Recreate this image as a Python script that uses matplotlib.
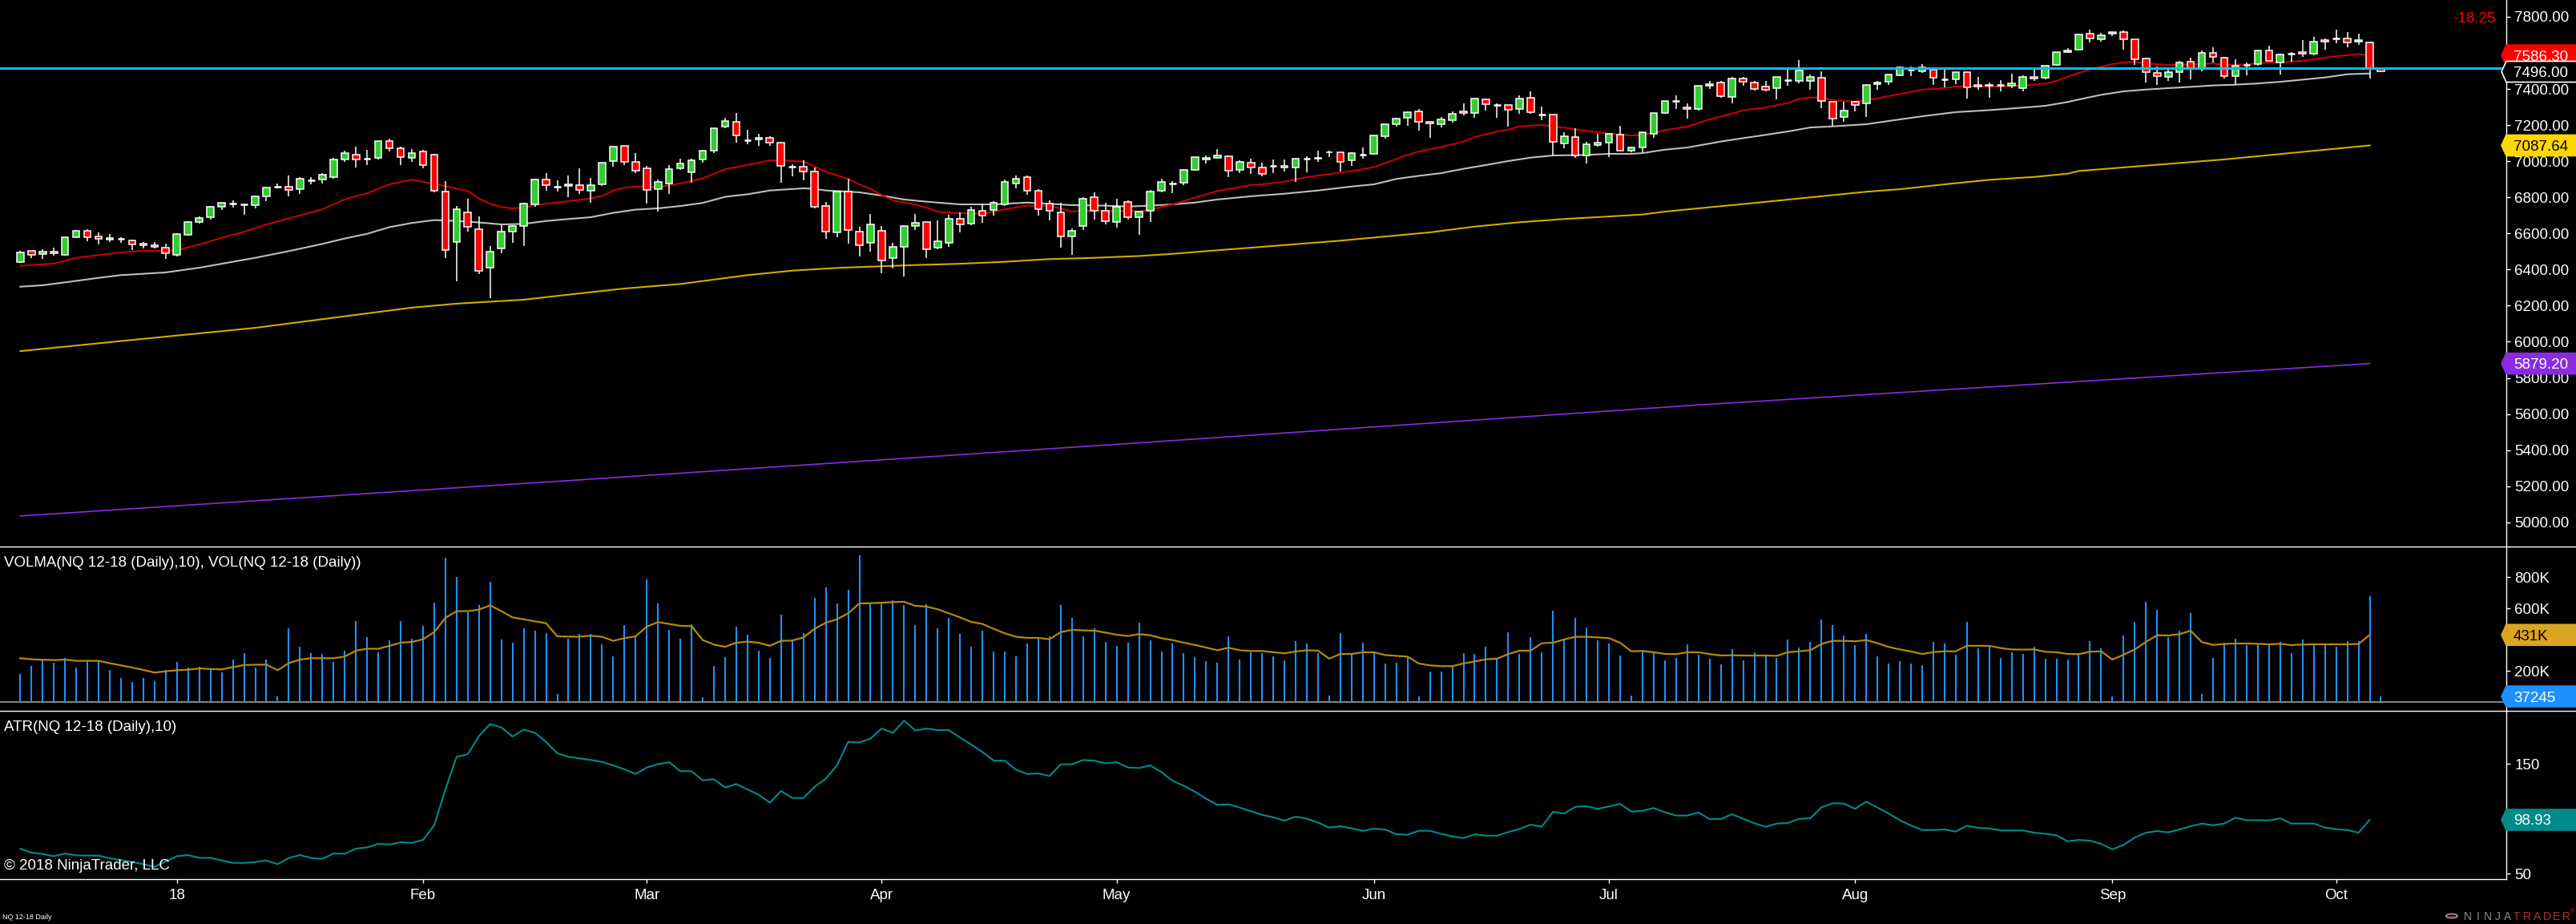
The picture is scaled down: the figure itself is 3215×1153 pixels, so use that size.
import numpy as np
import pandas as pd
import matplotlib
matplotlib.use("Agg")
import matplotlib.pyplot as plt
from matplotlib.patches import Polygon, Circle, Wedge
from matplotlib.lines import Line2D

plt.rcParams['font.family'] = ['Liberation Sans', 'DejaVu Sans']

# ---------------- data ----------------
opens = [6443, 6502, 6484, 6499, 6483, 6578, 6613, 6582, 6564, 6569,
         6560, 6544, 6533, 6523, 6483, 6591, 6662, 6689, 6746, 6764,
         6760, 6755, 6804, 6860, 6857, 6844, 6894, 6897, 6910, 7008,
         7035, 7013, 7017, 7110, 7070, 7017, 7053, 7035, 6831, 6551,
         6715, 6622, 6409, 6516, 6609, 6640, 6760, 6897, 6860, 6862,
         6866, 6835, 6871, 6999, 7084, 6995, 6959, 6844, 6875, 6959,
         6937, 7008, 7057, 7190, 7217, 7118, 7121, 7128, 7101, 6971,
         6968, 6942, 6751, 6606, 6831, 6609, 6546, 6613, 6462, 6524,
         6640, 6665, 6520, 6546, 6680, 6653, 6724, 6728, 6760, 6875,
         6911, 6835, 6764, 6715, 6582, 6640, 6800, 6724, 6662, 6773,
         6689, 6724, 6835, 6875, 6880, 6950, 7008, 7017, 7026, 6950,
         6991, 6964, 6976, 6973, 6964, 7013, 7014, 7048, 7048, 7004,
         7035, 7039, 7137, 7204, 7239, 7275, 7217, 7204, 7226, 7275,
         7266, 7341, 7312, 7310, 7288, 7350, 7260, 7257, 7097, 7133,
         7030, 7088, 7101, 7146, 7057, 7075, 7150, 7266, 7334, 7297,
         7291, 7417, 7434, 7354, 7456, 7434, 7412, 7403, 7449, 7443,
         7443, 7461, 7328, 7244, 7328, 7319, 7425, 7439, 7474, 7508,
         7497, 7508, 7455, 7455, 7492, 7421, 7421, 7424, 7417, 7403,
         7465, 7461, 7532, 7603, 7616, 7705, 7674, 7705, 7714, 7674,
         7568, 7488, 7466, 7492, 7550, 7514, 7599, 7572, 7470, 7534,
         7536, 7612, 7545, 7597, 7603, 7594, 7670, 7679, 7679, 7661,
         7656, 7514]
highs = [6502, 6502, 6511, 6520, 6578, 6619, 6623, 6606, 6597, 6579,
         6566, 6552, 6552, 6544, 6601, 6668, 6693, 6751, 6771, 6783,
         6760, 6808, 6853, 6876, 6921, 6912, 6912, 6933, 7017, 7057,
         7081, 7063, 7110, 7124, 7079, 7066, 7062, 7041, 6888, 6752,
         6792, 6694, 6530, 6646, 6644, 6769, 6902, 6933, 6893, 6921,
         6961, 6906, 6990, 7085, 7084, 7045, 6973, 6897, 6977, 7013,
         7013, 7057, 7181, 7239, 7266, 7173, 7150, 7138, 7101, 6983,
         7005, 6967, 6773, 6831, 6902, 6635, 6706, 6640, 6546, 6644,
         6706, 6665, 6671, 6702, 6715, 6746, 6764, 6777, 6899, 6921,
         6919, 6844, 6783, 6768, 6626, 6800, 6826, 6768, 6791, 6782,
         6724, 6840, 6902, 6888, 6955, 7022, 7030, 7066, 7030, 7004,
         7013, 6991, 7008, 7008, 7013, 7026, 7057, 7057, 7048, 7048,
         7075, 7141, 7204, 7239, 7275, 7288, 7217, 7244, 7275, 7319,
         7350, 7346, 7319, 7310, 7363, 7386, 7301, 7257, 7159, 7181,
         7106, 7150, 7150, 7195, 7079, 7159, 7266, 7332, 7365, 7320,
         7417, 7443, 7443, 7465, 7465, 7443, 7443, 7465, 7505, 7559,
         7479, 7497, 7328, 7328, 7334, 7425, 7443, 7479, 7525, 7523,
         7537, 7508, 7508, 7492, 7492, 7465, 7434, 7448, 7483, 7474,
         7508, 7528, 7603, 7625, 7708, 7727, 7710, 7714, 7723, 7674,
         7572, 7523, 7505, 7554, 7572, 7612, 7630, 7577, 7563, 7545,
         7616, 7639, 7594, 7603, 7670, 7687, 7679, 7727, 7714, 7705,
         7661, 7522]
lows = [6438, 6465, 6461, 6478, 6477, 6576, 6558, 6541, 6554, 6546,
        6509, 6517, 6518, 6461, 6474, 6588, 6656, 6678, 6731, 6745,
        6705, 6740, 6780, 6851, 6807, 6820, 6873, 6878, 6902, 6998,
        6967, 6980, 7011, 7055, 6980, 6998, 6962, 6828, 6465, 6336,
        6612, 6375, 6243, 6492, 6549, 6532, 6749, 6838, 6834, 6803,
        6820, 6772, 6862, 6968, 6980, 6936, 6767, 6723, 6820, 6950,
        6880, 6993, 7044, 7181, 7104, 7093, 7084, 7087, 6880, 6917,
        6896, 6740, 6572, 6581, 6545, 6474, 6501, 6381, 6407, 6363,
        6617, 6465, 6514, 6527, 6607, 6644, 6660, 6697, 6754, 6851,
        6813, 6700, 6674, 6523, 6483, 6618, 6677, 6652, 6634, 6678,
        6594, 6665, 6828, 6825, 6866, 6946, 6986, 7013, 6911, 6933,
        6931, 6916, 6934, 6943, 6887, 6940, 6998, 7023, 6941, 6976,
        7014, 7035, 7127, 7193, 7198, 7171, 7131, 7186, 7212, 7252,
        7239, 7279, 7242, 7190, 7261, 7261, 7227, 7030, 7073, 7020,
        6989, 7079, 7022, 7053, 7048, 7048, 7131, 7261, 7289, 7237,
        7282, 7399, 7350, 7322, 7416, 7390, 7385, 7344, 7420, 7430,
        7394, 7295, 7198, 7220, 7274, 7246, 7394, 7421, 7470, 7471,
        7489, 7424, 7409, 7428, 7348, 7394, 7353, 7385, 7403, 7385,
        7443, 7452, 7528, 7599, 7612, 7659, 7664, 7692, 7619, 7535,
        7437, 7424, 7446, 7437, 7455, 7499, 7545, 7460, 7424, 7474,
        7528, 7554, 7479, 7553, 7579, 7585, 7619, 7655, 7633, 7646,
        7459, 7492]
closes = [6493, 6480, 6497, 6489, 6578, 6613, 6578, 6569, 6573, 6569,
          6538, 6533, 6524, 6489, 6595, 6662, 6684, 6746, 6768, 6764,
          6760, 6804, 6853, 6860, 6839, 6902, 6894, 6924, 7008, 7044,
          7008, 7013, 7110, 7070, 7021, 7044, 6977, 6835, 6507, 6733,
          6635, 6394, 6498, 6609, 6640, 6764, 6897, 6866, 6860, 6871,
          6840, 6866, 6990, 7079, 6995, 6946, 6840, 6884, 6955, 6986,
          7004, 7057, 7181, 7221, 7141, 7118, 7128, 7101, 6973, 6971,
          6942, 6746, 6609, 6831, 6618, 6533, 6649, 6449, 6524, 6640,
          6657, 6511, 6555, 6680, 6649, 6728, 6697, 6768, 6884, 6902,
          6835, 6733, 6724, 6582, 6613, 6791, 6724, 6669, 6746, 6689,
          6720, 6831, 6884, 6875, 6950, 7022, 7017, 7030, 6946, 6995,
          6964, 6931, 6976, 6964, 7013, 7013, 7018, 7050, 6998, 7044,
          7035, 7141, 7204, 7235, 7270, 7217, 7208, 7230, 7261, 7266,
          7346, 7315, 7312, 7283, 7346, 7270, 7260, 7106, 7137, 7030,
          7092, 7101, 7150, 7057, 7075, 7159, 7266, 7332, 7334, 7288,
          7417, 7425, 7359, 7456, 7439, 7399, 7394, 7465, 7449, 7501,
          7465, 7332, 7235, 7279, 7310, 7421, 7434, 7479, 7519, 7508,
          7519, 7461, 7455, 7492, 7408, 7412, 7417, 7424, 7430, 7465,
          7456, 7528, 7603, 7612, 7701, 7682, 7696, 7714, 7674, 7563,
          7492, 7470, 7492, 7545, 7514, 7599, 7576, 7470, 7528, 7534,
          7612, 7554, 7590, 7597, 7594, 7661, 7661, 7679, 7656, 7670,
          7514.25, 7496]

# volume in thousands of contracts
volume_k = [179, 231, 275, 251, 282, 220, 265, 265, 205, 154,
            128, 154, 133, 205, 256, 220, 226, 215, 190, 275,
            313, 220, 272, 36, 472, 354, 316, 308, 256, 328,
            518, 415, 318, 395, 518, 405, 487, 636, 923, 800,
            574, 624, 772, 400, 379, 472, 456, 441, 51, 405,
            436, 436, 369, 292, 492, 426, 784, 631, 461, 405,
            501, 31, 231, 287, 482, 431, 328, 282, 559, 398,
            441, 667, 733, 631, 718, 938, 631, 631, 651, 620,
            492, 625, 472, 538, 436, 354, 458, 323, 323, 296,
            374, 410, 424, 620, 538, 420, 472, 385, 359, 379,
            508, 398, 323, 374, 313, 291, 261, 251, 420, 272,
            318, 313, 292, 267, 390, 374, 313, 41, 441, 308,
            379, 318, 246, 251, 292, 36, 195, 195, 226, 313,
            308, 354, 277, 446, 308, 415, 318, 584, 395, 538,
            477, 395, 374, 297, 41, 333, 313, 267, 282, 369,
            302, 277, 241, 338, 267, 318, 297, 282, 400, 349,
            385, 528, 492, 426, 364, 436, 292, 246, 261, 246,
            236, 385, 374, 302, 513, 344, 364, 282, 318, 308,
            354, 277, 277, 272, 308, 390, 344, 36, 426, 513,
            641, 590, 415, 458, 569, 51, 282, 379, 405, 364,
            374, 369, 385, 313, 400, 369, 374, 354, 390, 390,
            677, 37.245]

volma_k = [282, 275, 272, 270, 273, 265, 265, 265, 250, 236,
           222, 207, 190, 198, 205, 208, 217, 213, 210, 225,
           238, 240, 241, 205, 250, 273, 282, 282, 282, 292,
           330, 343, 342, 361, 381, 386, 403, 449, 540, 583,
           583, 593, 620, 583, 543, 531, 518, 506, 422, 420,
           420, 426, 419, 393, 410, 422, 484, 513, 501, 489,
           487, 398, 369, 355, 381, 388, 381, 361, 393, 395,
           415, 470, 509, 531, 569, 632, 634, 637, 641, 643,
           617, 612, 595, 569, 543, 514, 501, 470, 441, 419,
           412, 412, 403, 449, 463, 460, 458, 446, 432, 424,
           436, 429, 410, 398, 381, 367, 350, 333, 349, 333,
           328, 328, 320, 313, 325, 333, 330, 279, 309, 309,
           320, 320, 302, 297, 292, 248, 236, 231, 231, 248,
           261, 275, 279, 308, 330, 330, 378, 381, 402, 419,
           419, 415, 410, 381, 326, 328, 320, 309, 308, 320,
           320, 308, 299, 301, 299, 299, 299, 297, 320, 326,
           333, 373, 393, 393, 390, 398, 378, 354, 338, 325,
           309, 321, 326, 326, 362, 361, 361, 347, 338, 337,
           338, 323, 320, 309, 308, 323, 326, 273, 304, 338,
           386, 429, 427, 436, 458, 385, 367, 373, 376, 376,
           374, 371, 374, 366, 369, 371, 371, 371, 371, 373,
           431]

atr = [72.6, 69.0, 67.8, 65.8, 68.2, 66.5, 66.4, 66.3, 63.9, 62.2,
       60.5, 58.5, 56.1, 61.0, 65.8, 66.8, 64.3, 64.3, 61.9, 59.7,
       59.7, 60.5, 61.9, 58.5, 64.1, 66.8, 64.1, 63.4, 68.2, 68.0,
       72.6, 73.8, 77.0, 76.5, 78.5, 78.0, 80.6, 93.8, 126.6, 156.3,
       158.7, 175.3, 186.2, 183.1, 174.8, 181.1, 178.2, 169.9, 159.5, 156.3,
       154.9, 153.4, 151.7, 148.5, 144.9, 140.7, 146.6, 149.7, 151.4, 143.2,
       143.2, 134.9, 135.9, 128.3, 131.5, 126.6, 121.8, 114.5, 125.2, 118.8,
       118.8, 129.1, 136.4, 148.5, 169.9, 169.4, 172.9, 182.1, 178.2, 189.2,
       180.2, 182.1, 180.6, 180.6, 173.8, 167.5, 160.7, 152.9, 152.7, 144.6,
       140.7, 141.2, 138.8, 149.5, 149.5, 153.4, 152.7, 150.5, 151.4, 146.6,
       146.1, 148.5, 142.4, 134.4, 130.0, 124.5, 118.1, 112.5, 113.0, 110.1,
       106.7, 103.5, 101.1, 98.2, 101.8, 99.9, 96.5, 91.8, 93.1, 91.1,
       88.9, 90.9, 90.1, 85.8, 85.3, 88.9, 88.9, 86.2, 83.8, 82.3,
       85.8, 84.5, 84.5, 87.7, 90.6, 94.5, 92.6, 106.2, 104.7, 110.8,
       111.3, 108.9, 111.1, 113.5, 106.4, 107.2, 109.6, 105.9, 102.8, 102.8,
       105.5, 99.6, 99.6, 104.0, 99.9, 95.7, 92.6, 95.5, 96.0, 99.9,
       100.3, 110.3, 114.0, 113.7, 108.9, 115.4, 110.1, 104.7, 98.6, 93.8,
       89.6, 89.6, 90.1, 88.2, 93.5, 91.6, 91.1, 89.2, 89.2, 89.2,
       87.2, 86.2, 84.8, 79.4, 80.6, 79.9, 77.0, 72.1, 76.0, 82.8,
       87.2, 88.7, 87.5, 90.1, 93.1, 95.5, 94.0, 95.5, 100.8, 98.6,
       98.6, 98.4, 100.3, 95.5, 95.5, 95.5, 91.8, 90.4, 89.6, 87.2,
       98.93]

# moving-average lines (bar index, value)
red_idx = [0, 3, 5, 7, 9, 11, 13, 14, 16, 18, 20, 22, 24, 27, 29, 31, 33, 35, 38, 40,
           41, 42, 43, 44, 45, 46, 48, 50, 51, 52, 53, 54, 55, 57, 59, 61, 63, 65, 67, 69,
           70, 71, 72, 74, 75, 76, 77, 78, 80, 81, 82, 84, 86, 88, 90, 92, 93, 94, 95, 97,
           99, 100, 101, 103, 105, 107, 109, 110, 111, 113, 115, 117, 119, 120, 121, 122, 124, 125, 127, 129,
           130, 132, 133, 134, 136, 138, 140, 142, 144, 145, 146, 147, 149, 151, 153, 154, 156, 158, 159, 160,
           161, 162, 164, 166, 168, 170, 172, 173, 175, 177, 179, 181, 182, 183, 184, 185, 187, 188, 189, 190,
           191, 192, 193, 195, 196, 197, 199, 200, 202, 204, 205, 207, 208, 209, 210]
red_val = [6421, 6433, 6465, 6480, 6495, 6504, 6504, 6507, 6539, 6576, 6609, 6650, 6683, 6734, 6789, 6823, 6872, 6898, 6862, 6835,
           6794, 6764, 6746, 6739, 6743, 6758, 6771, 6786, 6794, 6808, 6838, 6853, 6860, 6857, 6877, 6905, 6956, 6980, 7005, 7002,
           6998, 6971, 6942, 6902, 6872, 6847, 6813, 6783, 6761, 6743, 6720, 6712, 6709, 6734, 6754, 6751, 6739, 6721, 6727, 6724,
           6724, 6721, 6731, 6761, 6798, 6835, 6857, 6869, 6872, 6887, 6912, 6928, 6946, 6956, 6968, 6990, 7035, 7054, 7079, 7109,
           7134, 7165, 7175, 7193, 7201, 7186, 7168, 7153, 7143, 7146, 7158, 7172, 7192, 7232, 7264, 7282, 7298, 7323, 7346, 7353,
           7353, 7338, 7331, 7349, 7372, 7397, 7405, 7414, 7414, 7414, 7420, 7430, 7445, 7468, 7490, 7508, 7538, 7548, 7551, 7542,
           7538, 7533, 7535, 7538, 7542, 7535, 7535, 7544, 7548, 7556, 7565, 7582, 7587, 7594, 7586.30]

gray_idx = [0, 2, 4, 7, 9, 13, 16, 19, 21, 24, 27, 29, 31, 33, 35, 37, 39, 41, 43, 45,
            47, 49, 51, 53, 55, 57, 59, 61, 63, 65, 67, 70, 71, 72, 75, 77, 79, 81, 84, 87,
            90, 92, 94, 97, 99, 101, 103, 105, 107, 110, 113, 116, 119, 121, 123, 125, 127, 129, 131, 133,
            135, 137, 140, 142, 144, 145, 147, 149, 152, 154, 156, 158, 160, 162, 165, 167, 170, 173, 176, 179,
            181, 183, 184, 186, 188, 190, 192, 194, 196, 198, 200, 202, 204, 206, 208, 210]
gray_val = [6305, 6313, 6329, 6354, 6369, 6384, 6410, 6443, 6465, 6502, 6542, 6572, 6598, 6635, 6658, 6674, 6669, 6661, 6650, 6653,
            6669, 6680, 6690, 6714, 6732, 6739, 6752, 6769, 6803, 6817, 6838, 6850, 6847, 6838, 6828, 6810, 6788, 6776, 6761, 6761,
            6771, 6764, 6757, 6754, 6749, 6754, 6761, 6771, 6788, 6806, 6820, 6838, 6860, 6872, 6902, 6919, 6934, 6958, 6979, 7001,
            7020, 7032, 7035, 7041, 7041, 7045, 7064, 7076, 7109, 7128, 7146, 7165, 7187, 7193, 7205, 7223, 7249, 7272, 7283, 7297,
            7307, 7328, 7342, 7368, 7387, 7397, 7405, 7412, 7420, 7424, 7431, 7440, 7452, 7464, 7482, 7486]

gold_idx = [0, 10, 21, 35, 39, 45, 49, 54, 59, 65, 69, 73, 76, 80, 84, 88, 92, 96, 100, 103,
            106, 110, 118, 126, 130, 134, 138, 142, 145, 147, 156, 165, 168, 172, 176, 180, 183, 184, 197, 210]
gold_val = [5948, 6010, 6077, 6189, 6211, 6233, 6261, 6295, 6320, 6369, 6394, 6409, 6416, 6425, 6432, 6443, 6458, 6465, 6475, 6487,
            6502, 6521, 6560, 6606, 6638, 6662, 6680, 6694, 6705, 6721, 6775, 6831, 6845, 6872, 6897, 6913, 6931, 6946, 7010, 7087.64]

purple_idx = [0, 50, 100, 150, 210]
purple_val = [5035, 5235, 5440, 5650, 5879.20]

hline_level = 7515
last_price = 7496.00
net_change = -18.25

price_ticks = [5000, 5200, 5400, 5600, 5800, 6000, 6200, 6400, 6600, 6800, 7000, 7200, 7400, 7600, 7800]
vol_ticks = [200, 400, 600, 800]
atr_ticks = [50, 100, 150]

# bar dates (daily sessions)
dates = pd.bdate_range('2017-12-11', '2018-10-05')
dates = dates[~dates.isin(pd.to_datetime(['2017-12-25', '2018-01-01', '2018-03-30']))]

# ---------------- figure layout ----------------
W, H = 3216, 1153
DPI = 100
fig = plt.figure(figsize=(W / DPI, H / DPI), dpi=DPI, facecolor='black')
AX_R = 3128


def rect(top, bottom):
    return [0, 1 - bottom / H, AX_R / W, (bottom - top) / H]


ax_p = fig.add_axes(rect(0, 682))
ax_v = fig.add_axes(rect(682, 887))
ax_a = fig.add_axes(rect(887, 1097))

n = len(opens)
x = np.arange(n)
o = np.array(opens, float)
h = np.array(highs, float)
l = np.array(lows, float)
c = np.array(closes, float)

XL = (-25.3 / 13.963, (AX_R - 25.3) / 13.963)
TXT = 13.5

for ax in (ax_p, ax_v, ax_a):
    ax.set_facecolor('black')
    ax.set_xlim(*XL)
    for s in ('left', 'top', 'bottom'):
        ax.spines[s].set_visible(False)
    ax.spines['right'].set_color('white')
    ax.spines['right'].set_linewidth(1.0)
    ax.yaxis.tick_right()
    ax.tick_params(axis='y', colors='white', length=3.6, width=1.0, pad=3.8,
                   labelsize=TXT, direction='out')
    ax.tick_params(axis='x', bottom=False, labelbottom=False)


def tick_labels(ax, ticks, fmt, hidden):
    # labels that sit under a value tag are covered in the original chart
    ax.set_yticks(ticks)
    ax.set_yticklabels(['' if t in hidden else fmt(t) for t in ticks])


# ---- price panel ----
ax_p.set_ylim(4865.5, 7893.2)
tick_labels(ax_p, price_ticks, lambda v: f'{v:.2f}', hidden=[7600])

ax_p.plot(purple_idx, purple_val, color='#8A2BE2', lw=1.2, zorder=1)
ax_p.plot(gold_idx, gold_val, color='#D4AA00', lw=1.5, zorder=1)
ax_p.plot(gray_idx, gray_val, color='#BEBEBE', lw=1.5, zorder=1)
ax_p.plot(red_idx, red_val, color='#C80000', lw=1.5, zorder=1)

ax_p.vlines(x, l, h, color='white', lw=1.1, zorder=2)
up = c > o
dn = c < o
fl = c == o
bw = 0.62
ax_p.bar(x[up], c[up] - o[up], bottom=o[up], width=bw, color='#32CD32',
         edgecolor='white', linewidth=1.1, zorder=3)
ax_p.bar(x[dn], o[dn] - c[dn], bottom=c[dn], width=bw, color='#FF0000',
         edgecolor='white', linewidth=1.1, zorder=3)
ax_p.hlines(c[fl], x[fl] - bw / 2, x[fl] + bw / 2, color='white', lw=1.8, zorder=3)

ax_p.axhline(hline_level, color='#00BFFF', lw=2.2, zorder=5)

# ---- volume panel ----
ax_v.set_ylim(-54.9, 996.4)
tick_labels(ax_v, vol_ticks, lambda v: f'{v}K', hidden=[400])
ax_v.axhline(0, color='#A0A0A0', lw=1.2, zorder=1)
ax_v.vlines(x, 0, volume_k, color='#1E90FF', lw=1.5, zorder=2)
ax_v.plot(np.arange(len(volma_k)), volma_k, color='#B8860B', lw=1.6, zorder=3)

# ---- ATR panel ----
ax_a.set_ylim(44.9, 198.2)
tick_labels(ax_a, atr_ticks, lambda v: f'{v}', hidden=[100])
ax_a.plot(np.arange(len(atr)), atr, color='#008B8B', lw=1.5, zorder=2)
ax_a.spines['bottom'].set_visible(True)
ax_a.spines['bottom'].set_color('white')
ax_a.spines['bottom'].set_linewidth(1.0)

month_pos, month_lab = [], []
for i in range(1, len(dates)):
    if dates[i].month != dates[i - 1].month:
        month_pos.append(i)
        month_lab.append(dates[i].strftime('%y') if dates[i].month == 1 else dates[i].strftime('%b'))
ax_a.set_xticks(month_pos)
ax_a.set_xticklabels(month_lab)
ax_a.tick_params(axis='x', bottom=True, labelbottom=True, colors='white', length=3.6,
                 width=1.0, pad=5, labelsize=TXT, direction='out')

# ---- separators ----
for ypx in (682, 887):
    fig.add_artist(Line2D([0, 1], [1 - ypx / H, 1 - ypx / H], color='white', lw=1.0,
                          transform=fig.transFigure))


def ftext(xpx, ypx, s, **kw):
    return fig.text(xpx / W, 1 - ypx / H, s, **kw)


# ---- value tags on the right axis ----
def tag(ax, val, text, fc, tc, ec=None):
    yd = ax.transData.transform((0, val))[1]
    yc = yd / H
    hh = 13 / H
    pts = [(3122 / W, yc), (3128 / W, yc + hh), (1.0, yc + hh), (1.0, yc - hh), (3128 / W, yc - hh)]
    fig.add_artist(Polygon(pts, closed=True, transform=fig.transFigure, facecolor=fc,
                           edgecolor=ec if ec else fc, lw=1.2, zorder=10))
    fig.text(3137 / W, yc - 6.5 / H, text, color=tc, fontsize=TXT, ha='left',
             va='baseline', zorder=11)


tag(ax_p, red_val[-1], f'{red_val[-1]:.2f}', '#FF0000', 'white')
tag(ax_p, last_price, f'{last_price:.2f}', 'black', 'white', ec='white')
tag(ax_p, gold_val[-1], f'{gold_val[-1]:.2f}', '#FFD700', 'black')
tag(ax_p, purple_val[-1], f'{purple_val[-1]:.2f}', '#8A2BE2', 'white')
tag(ax_v, volma_k[-1], f'{int(round(volma_k[-1]))}K', '#DAA520', 'black')
tag(ax_v, volume_k[-1], f'{int(round(volume_k[-1] * 1000))}', '#1E90FF', 'white')
tag(ax_a, atr[-1], f'{atr[-1]:.2f}', '#008B8B', 'white')

ftext(3115, 28, f'{net_change:.2f}', color='#FF0000', fontsize=TXT, ha='right', va='baseline')

# ---- panel captions ----
ftext(5, 707, 'VOLMA(NQ 12-18 (Daily),10), VOL(NQ 12-18 (Daily))', color='white',
      fontsize=TXT, ha='left', va='baseline', zorder=12)
ftext(5, 912, 'ATR(NQ 12-18 (Daily),10)', color='white', fontsize=TXT, ha='left',
      va='baseline', zorder=12)
ftext(5, 1085, '\u00a9 2018 NinjaTrader, LLC', color='white', fontsize=TXT, ha='left',
      va='baseline', zorder=12)
ftext(3, 1147, 'NQ 12-18 Daily', color='white', fontsize=6.5, ha='left', va='baseline')

# ---- NinjaTrader logo ----
fig.add_artist(Circle((3060 / W, 1 - 1143 / H), 7 / W, transform=fig.transFigure,
                      facecolor='none', edgecolor='#8C8C8C', lw=1.5, zorder=12))
fig.add_artist(Wedge((3060 / W, 1 - 1143 / H), 5 / W, 200, 340, transform=fig.transFigure,
                     facecolor='#B03030', edgecolor='none', zorder=13))
for k, ch in enumerate('NINJATRADER'):
    col = '#8C8C8C' if k < 5 else '#B03030'
    ftext(3080 + k * 12.3, 1148, ch, color=col, fontsize=10, ha='center', va='baseline')
ftext(3211, 1139, '\u00ae', color='#B03030', fontsize=5, ha='center', va='baseline')

fig.savefig('out.png', dpi=DPI, facecolor='black')
